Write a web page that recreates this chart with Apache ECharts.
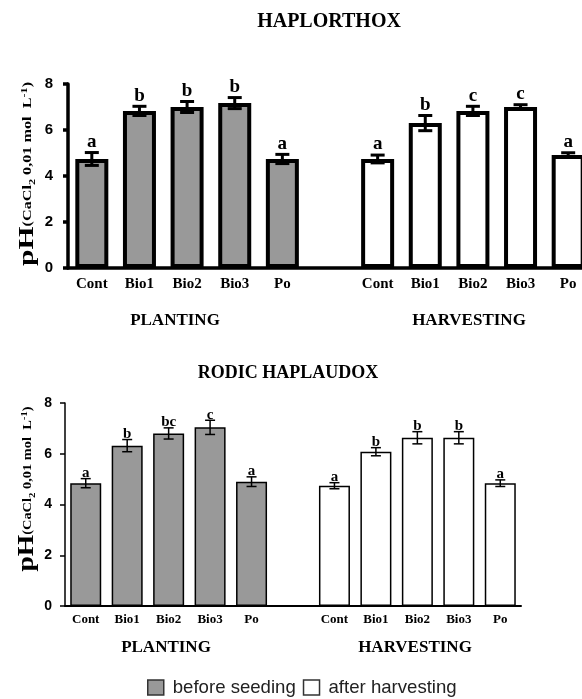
<!DOCTYPE html>
<html><head><meta charset="utf-8">
<script src="https://cdn.jsdelivr.net/npm/echarts@6/dist/echarts.min.js"></script>
<style>html,body{margin:0;padding:0;background:#fff}#c{width:582px;height:699px}</style>
</head><body><div id="c"></div>
<script>
const treatments = ['Cont','Bio1','Bio2','Bio3','Po'];
const seriesNames = ['before seeding','after harvesting'];
const yTicks = [0,2,4,6,8];
// HAPLORTHOX
const topPlanting = [4.74, 6.83, 7.0, 7.17, 4.74];
const topPlantingErr = [0.28, 0.2, 0.24, 0.24, 0.2];
const topPlantingLetters = ['a','b','b','b','a'];
const topHarvest = [4.74, 6.3, 6.83, 7.0, 4.91];
const topHarvestErr = [0.17, 0.33, 0.2, 0.1, 0.1];
const topHarvestLetters = ['a','b','c','c','a'];
// RODIC HAPLAUDOX
const botPlanting = [4.84, 6.32, 6.8, 7.04, 4.9];
const botPlantingErr = [0.18, 0.24, 0.22, 0.28, 0.19];
const botPlantingLetters = ['a','b','bc','c','a'];
const botHarvest = [4.74, 6.08, 6.63, 6.63, 4.84];
const botHarvestErr = [0.12, 0.16, 0.24, 0.24, 0.13];
const botHarvestLetters = ['a','b','b','b','a'];

const categories = treatments.concat([''], treatments);
const n = treatments.length;
const blanks = k => Array(k).fill('-');
const SERIF = "'Liberation Serif', 'Times New Roman', serif";
const SANS = "'Liberation Sans', Arial, sans-serif";

function errData(pl, ple, hv, hve) {
  const d = [];
  pl.forEach((v,i)=>d.push([i, v, ple[i]]));
  hv.forEach((v,i)=>d.push([n+1+i, v, hve[i]]));
  return d;
}
function errRender(letters, cfg) {
  return function(params, api) {
    const i = params.dataIndex;
    const x = api.value(0), v = api.value(1), e = api.value(2);
    const pT = api.coord([x, v + e]);
    const pB = api.coord([x, v - e]);
    const hw = cfg.cap / 2;
    const ls = {stroke:'#000', lineWidth: cfg.lw};
    return {type:'group', children:[
      {type:'line', shape:{x1:pT[0],y1:pT[1],x2:pB[0],y2:pB[1]}, style:ls},
      {type:'line', shape:{x1:pT[0]-hw,y1:pT[1],x2:pT[0]+hw,y2:pT[1]}, style:ls},
      {type:'line', shape:{x1:pB[0]-hw,y1:pB[1],x2:pB[0]+hw,y2:pB[1]}, style:ls},
      {type:'text', x:pT[0], y:pT[1] + cfg.dy, style:{text: letters[i], font: 'bold ' + cfg.fs + 'px ' + SERIF, align:'center', verticalAlign:'bottom', fill:'#000'}}
    ]};
  };
}

function xAxisCfg(gi, fs, margin, lw) {
  return {type:'category', gridIndex:gi, data:categories,
    axisLine:{lineStyle:{color:'#000', width:lw}}, axisTick:{show:false},
    axisLabel:{interval:0, color:'#000', fontFamily:SERIF, fontWeight:'bold', fontSize:fs, margin:margin},
    splitLine:{show:false}};
}
function yAxisCfg(gi, fs, margin, lw) {
  return {type:'value', gridIndex:gi, min:yTicks[0], max:yTicks[yTicks.length-1], interval:2,
    axisLine:{show:true, lineStyle:{color:'#000', width:lw}},
    axisTick:{show:true, length:5, lineStyle:{color:'#000', width:lw}},
    axisLabel:{color:'#000', fontFamily:SANS, fontWeight:'bold', fontSize:fs, margin:margin},
    splitLine:{show:false}};
}
function yName(x, y, big, small, sc) {
  return {type:'text', x:x, y:y, rotation:Math.PI/2, scaleX:sc, scaleY:1,
    style:{text:'{p|pH}{s|(CaCl}{sub|2}{s| 0,01 mol  L}{sup|-1}{s|)}', align:'center', verticalAlign:'middle', fill:'#000',
      rich:{
        p:{font:'bold '+big+'px '+SERIF, fill:'#000'},
        s:{font:'bold '+small+'px '+SERIF, fill:'#000', padding:[2,0,0,0]},
        sub:{font:'bold '+(small-3)+'px '+SERIF, fill:'#000', padding:[11,0,0,0]},
        sup:{font:'bold '+(small-3)+'px '+SERIF, fill:'#000', padding:[0,0,5,0]}
      }}};
}
function label(text, x, y, fs) {
  return {type:'text', x:x, y:y, style:{text:text, font:'bold '+fs+'px '+SERIF, align:'center', verticalAlign:'middle', fill:'#000'}};
}

const chart = echarts.init(document.getElementById('c'));
chart.setOption({
  animation:false,
  backgroundColor:'#fff',
  grid:[
    {left:68, top:84, width:524, height:184, outerBoundsMode:'none', containLabel:false},
    {left:65, top:403, width:456, height:203, outerBoundsMode:'none', containLabel:false}
  ],
  xAxis:[xAxisCfg(0, 15, 9, 3.5), xAxisCfg(1, 13, 7, 2)],
  yAxis:[yAxisCfg(0, 15, 15, 3.5), yAxisCfg(1, 14, 13, 1.5)],
  legend:{left:147, top:678, padding:0, itemWidth:16, itemHeight:15, itemGap:7, icon:'rect',
    textStyle:{fontFamily:SANS, fontSize:18.6, color:'#222', padding:[0,0,0,4]},
    data:[
      {name:seriesNames[0], itemStyle:{color:'#999', borderColor:'#333', borderWidth:1.5}},
      {name:seriesNames[1], itemStyle:{color:'#fff', borderColor:'#333', borderWidth:1.5}}
    ]},
  graphic:[
    label('HAPLORTHOX', 329, 22, 20),
    label('PLANTING', 175, 321, 17),
    label('HARVESTING', 469, 321, 17),
    label('RODIC HAPLAUDOX', 288, 373, 18),
    label('PLANTING', 166, 648, 17),
    label('HARVESTING', 415, 648, 17),
    yName(27, 174, 22, 12, 1.35),
    yName(27, 489, 23, 12, 1.2)
  ],
  series:[
    {name:seriesNames[0], type:'bar', xAxisIndex:0, yAxisIndex:0, barWidth:33, barGap:'-100%',
      data:topPlanting.concat(blanks(n+1)), itemStyle:{color:'#999', borderColor:'#000', borderWidth:4}},
    {name:seriesNames[1], type:'bar', xAxisIndex:0, yAxisIndex:0, barWidth:33, barGap:'-100%',
      data:blanks(n+1).concat(topHarvest), itemStyle:{color:'#fff', borderColor:'#000', borderWidth:4}},
    {type:'custom', xAxisIndex:0, yAxisIndex:0, z:5,
      data:errData(topPlanting, topPlantingErr, topHarvest, topHarvestErr),
      renderItem:errRender(topPlantingLetters.concat(topHarvestLetters), {cap:14, lw:3, dy:-1, fs:19})},
    {name:seriesNames[0], type:'bar', xAxisIndex:1, yAxisIndex:1, barWidth:31, barGap:'-100%',
      data:botPlanting.concat(blanks(n+1)), itemStyle:{color:'#999', borderColor:'#000', borderWidth:1.5}},
    {name:seriesNames[1], type:'bar', xAxisIndex:1, yAxisIndex:1, barWidth:31, barGap:'-100%',
      data:blanks(n+1).concat(botHarvest), itemStyle:{color:'#fff', borderColor:'#000', borderWidth:1.5}},
    {type:'custom', xAxisIndex:1, yAxisIndex:1, z:5,
      data:errData(botPlanting, botPlantingErr, botHarvest, botHarvestErr),
      renderItem:errRender(botPlantingLetters.concat(botHarvestLetters), {cap:10, lw:1.5, dy:2, fs:15})}
  ]
});
</script></body></html>
